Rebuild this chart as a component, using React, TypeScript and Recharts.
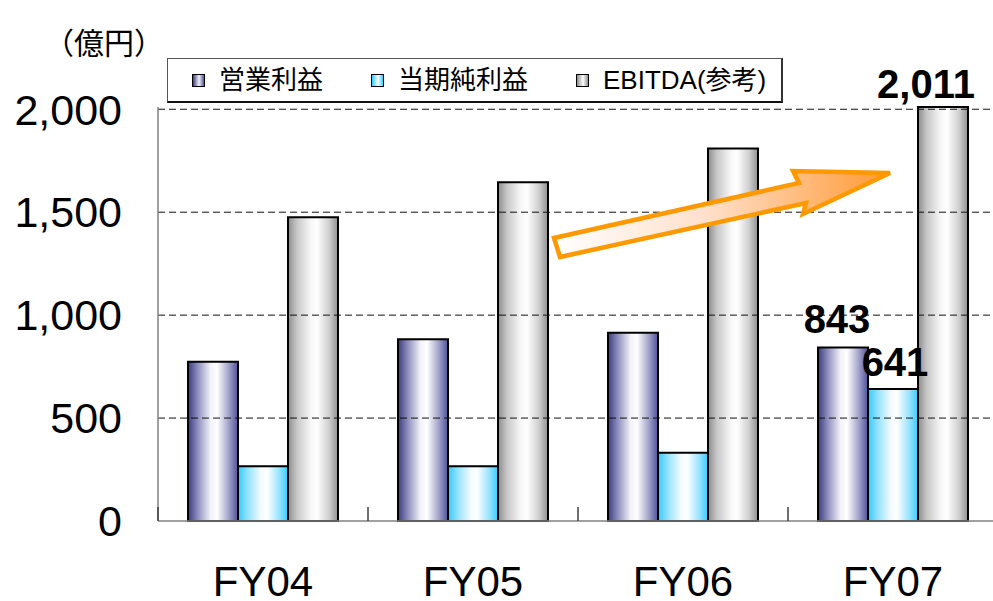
import { BarChart, Bar, XAxis, YAxis, ReferenceLine, LabelList } from 'recharts';

const categories = ['FY04', 'FY05', 'FY06', 'FY07'];
const operatingProfit = [773, 883, 914, 843];
const netIncome = [266, 266, 332, 641];
const ebitda = [1476, 1646, 1810, 2011];
const yTicks = [0, 500, 1000, 1500, 2000];

const seriesNames = ['営業利益', '当期純利益', 'EBITDA(参考)'];

const chartData = categories.map((name, i) => ({
  name,
  op: operatingProfit[i],
  net: netIncome[i],
  ebitda: ebitda[i],
}));

const LATIN = '"Liberation Sans", Arial, "Noto Sans CJK JP", sans-serif';
const BAND = 210;

const GRADIENTS = [
  { id: 'gOp', stops: ['#3a3a7e', '#8888ba', '#f2f2f8', '#ffffff', '#a0a0ca', '#50509a'] },
  { id: 'gNet', stops: ['#30c8ff', '#8ee0ff', '#f0faff', '#ffffff', '#9ae4ff', '#38ccff'] },
  { id: 'gEb', stops: ['#8c8c8c', '#c8c8c8', '#f6f6f6', '#ffffff', '#cfcfcf', '#909090'] },
];
const STOP_OFFSETS = ['0%', '18%', '45%', '58%', '82%', '100%'];

const legendCss = [
  'linear-gradient(to right, #3a3a7e, #f2f2f8 55%, #50509a)',
  'linear-gradient(to right, #30c8ff, #ffffff 55%, #38ccff)',
  'linear-gradient(to right, #8c8c8c, #ffffff 55%, #909090)',
];

const XTick = ({ x, y, payload }: any) => (
  <g>
    <line x1={x - BAND / 2} y1={y} x2={x - BAND / 2} y2={y - 14} stroke="#404040" strokeWidth={1.5} />
    <text x={x} y={y + 75} textAnchor="middle" fontSize={42} fontFamily={LATIN} fill="#000">
      {payload.value}
    </text>
  </g>
);

const lastLabel = (dx: number, gap: number) => (props: any) => {
  const { x, y, width, value, index } = props;
  if (index !== categories.length - 1) return null;
  return (
    <text
      x={x + width / 2 + dx}
      y={y - gap}
      textAnchor="middle"
      fontSize={40}
      fontWeight="bold"
      fontFamily={LATIN}
      fill="#000"
    >
      {Number(value).toLocaleString('en-US')}
    </text>
  );
};

export default function App() {
  return (
    <div style={{ position: 'fixed', left: 0, top: 0, width: 993, height: 601, overflow: 'hidden', background: '#fff' }}>
      <BarChart
        width={998}
        height={601}
        data={chartData}
        margin={{ top: 107, right: 0, bottom: 0, left: 0 }}
        barGap={0}
        barSize={50}
      >
        <defs>
          {GRADIENTS.map((g) => (
            <linearGradient key={g.id} id={g.id} x1="0" y1="0" x2="1" y2="0">
              {g.stops.map((c, i) => (
                <stop key={i} offset={STOP_OFFSETS[i]} stopColor={c} />
              ))}
            </linearGradient>
          ))}
        </defs>
        {yTicks.slice(1).map((t) => (
          <ReferenceLine key={t} y={t} stroke="#111" strokeWidth={1} strokeDasharray="7 4" />
        ))}
        <XAxis
          dataKey="name"
          height={80}
          tickSize={0}
          tickMargin={0}
          tickLine={false}
          axisLine={{ stroke: '#808080', strokeWidth: 1.5 }}
          tick={<XTick />}
          interval={0}
        />
        <YAxis
          width={158}
          domain={[0, 2000]}
          ticks={yTicks}
          tickSize={0}
          tickMargin={36}
          tickLine={false}
          axisLine={{ stroke: '#808080', strokeWidth: 1.5 }}
          tick={{ fontSize: 43, fill: '#000', fontFamily: LATIN }}
          tickFormatter={(v: number) => v.toLocaleString('en-US')}
        />
        <Bar dataKey="op" name={seriesNames[0]} fill="url(#gOp)" stroke="#000" strokeWidth={2} isAnimationActive={false}>
          <LabelList dataKey="op" content={lastLabel(-6, 14)} />
        </Bar>
        <Bar dataKey="net" name={seriesNames[1]} fill="url(#gNet)" stroke="#000" strokeWidth={2} isAnimationActive={false}>
          <LabelList dataKey="net" content={lastLabel(2, 13)} />
        </Bar>
        <Bar dataKey="ebitda" name={seriesNames[2]} fill="url(#gEb)" stroke="#000" strokeWidth={2} isAnimationActive={false}>
          <LabelList dataKey="ebitda" content={lastLabel(-17, 9)} />
        </Bar>
      </BarChart>

      {/* unit label */}
      <div
        style={{
          position: 'absolute',
          left: 44,
          top: 25,
          fontSize: 30,
          lineHeight: '32px',
          fontFamily: '"Noto Sans CJK JP", sans-serif',
          color: '#000',
          whiteSpace: 'nowrap',
        }}
      >
        （億円）
      </div>

      {/* legend */}
      <div
        style={{
          position: 'absolute',
          left: 167,
          top: 58,
          width: 616,
          height: 45,
          boxSizing: 'border-box',
          border: '1px solid #555',
          borderBottom: '2px solid #111',
          borderRight: '2px solid #333',
          background: '#fff',
          display: 'flex',
          alignItems: 'center',
          paddingLeft: 24,
          fontFamily: LATIN,
          fontSize: 26,
          color: '#000',
        }}
      >
        {seriesNames.map((n, i) => (
          <div key={n} style={{ display: 'flex', alignItems: 'center', marginRight: 48, whiteSpace: 'nowrap' }}>
            <span
              style={{
                display: 'inline-block',
                width: 11,
                height: 11,
                border: '1.5px solid #000',
                background: legendCss[i],
                marginRight: 14,
              }}
            />
            <span style={{ lineHeight: '30px' }}>{n}</span>
          </div>
        ))}
      </div>

      {/* trend arrow */}
      <svg width={993} height={601} style={{ position: 'absolute', left: 0, top: 0, pointerEvents: 'none' }}>
        <defs>
          <linearGradient id="arrowFill" x1="0" y1="0" x2="1" y2="0">
            <stop offset="0%" stopColor="#ffffff" />
            <stop offset="45%" stopColor="#ffe0cc" />
            <stop offset="100%" stopColor="#ff9933" />
          </linearGradient>
        </defs>
        <polygon
          points="554,238 560,257 806,203 803,214 890,173 793,171 799,183"
          fill="url(#arrowFill)"
          stroke="#ff9900"
          strokeWidth={4.5}
          strokeLinejoin="miter"
        />
      </svg>
    </div>
  );
}
